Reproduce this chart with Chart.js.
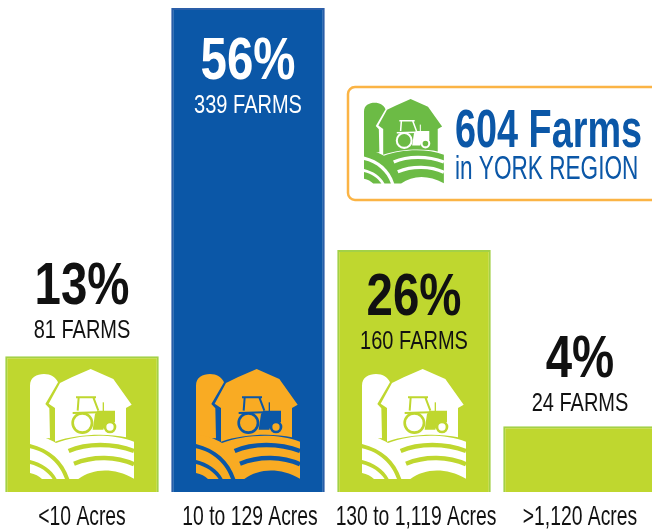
<!DOCTYPE html>
<html><head><meta charset="utf-8">
<style>
html,body{margin:0;padding:0;background:#fff;overflow:hidden;width:652px;height:531px}
#wrap{position:absolute;left:-1px;top:0;width:664px;height:531px}
</style>
<script src="https://cdn.jsdelivr.net/npm/chart.js@4"></script>
</head><body><div id="wrap"><canvas id="c" width="664" height="531"></canvas></div>
<script>
const categories = ['<10 Acres','10 to 129 Acres','130 to 1,119 Acres','>1,120 Acres'];
const percentLabels = ['13%','56%','26%','4%'];
const farmLabels = ['81 FARMS','339 FARMS','160 FARMS','24 FARMS'];
const drawnBarHeights = [15.7,56,28,7.6];
const barFill = ['#bfd72f','#0b57a7','#bfd72f','#bfd72f'];
const barEdge = ['#a3d147','#2a5ea8','#a3d147','#a3d147'];
const iconColor = ['#ffffff','#f9ab23','#ffffff',null];
const logoTitle = '604 Farms';
const logoSubtitle = 'in YORK REGION';

const FACE = '"Liberation Sans"';
// Condensed look: real text squeezed horizontally by the given factor.
function text(ctx,s,x,y,font,color,align,squeeze){
  ctx.save();ctx.font=font;ctx.fillStyle=color;ctx.textBaseline='alphabetic';ctx.textAlign=align||'center';
  ctx.fillText(s,x,y,ctx.measureText(s).width*(squeeze||1));ctx.restore();
}
// icon drawn in its own 313x330 design space (origin top-left)
function barn(ctx,x,y,k,fg,bg){
  ctx.save();ctx.translate(x,y);ctx.scale(k,k);ctx.lineCap='butt';ctx.lineJoin='round';
  ctx.fillStyle=fg;
  // silo
  ctx.beginPath();ctx.moveTo(0,205);ctx.lineTo(0,50);ctx.bezierCurveTo(0,25,20,15,42,15);
  ctx.bezierCurveTo(62,15,78,25,84,40);ctx.lineTo(46,105);ctx.lineTo(58,118);ctx.lineTo(60,208);ctx.closePath();ctx.fill();
  // barn
  ctx.beginPath();ctx.moveTo(56,104);ctx.lineTo(90,42);ctx.lineTo(125,25);ctx.lineTo(182,0);ctx.lineTo(250,30);
  ctx.lineTo(305,107);ctx.lineTo(288,117);ctx.lineTo(288,205);ctx.bezierCurveTo(230,192,140,195,75,218);
  ctx.lineTo(75,117);ctx.closePath();ctx.fill();
  // tractor
  ctx.strokeStyle=bg;ctx.fillStyle=bg;
  ctx.lineWidth=8;
  ctx.beginPath();ctx.arc(157,162,29,0,Math.PI*2);ctx.stroke();
  ctx.beginPath();ctx.arc(240,174,15,0,Math.PI*2);ctx.stroke();
  ctx.lineWidth=6;
  ctx.beginPath();ctx.moveTo(138,85);ctx.lineTo(198,85);ctx.moveTo(146,85);ctx.lineTo(143,125);ctx.moveTo(190,85);ctx.lineTo(205,125);
  ctx.moveTo(128,132);ctx.lineTo(205,130);ctx.stroke();
  ctx.beginPath();ctx.moveTo(195,135);ctx.lineTo(203,125);ctx.lineTo(255,125);ctx.lineTo(255,160);ctx.lineTo(226,162);ctx.lineTo(220,182);ctx.lineTo(188,182);ctx.closePath();ctx.fill();
  ctx.fillRect(218,100,4,28);
  // field
  ctx.fillStyle=fg;
  ctx.beginPath();ctx.moveTo(0,197);ctx.bezierCurveTo(30,198,60,210,78,222);ctx.bezierCurveTo(140,198,240,190,312,218);
  ctx.lineTo(312,329);ctx.bezierCurveTo(250,295,190,298,145,330);ctx.lineTo(118,330);ctx.bezierCurveTo(100,275,60,240,0,225);
  ctx.closePath();ctx.fill();
  // lower left bands
  ctx.beginPath();ctx.moveTo(0,238);ctx.bezierCurveTo(50,248,90,285,105,330);ctx.lineTo(80,330);ctx.bezierCurveTo(65,300,35,282,0,273);ctx.closePath();ctx.fill();
  ctx.beginPath();ctx.moveTo(0,285);ctx.bezierCurveTo(30,292,55,310,68,330);ctx.lineTo(36,330);ctx.bezierCurveTo(27,322,15,315,0,312);ctx.closePath();ctx.fill();
  // stripes cut from the field
  ctx.strokeStyle=bg;ctx.lineWidth=13;
  ctx.beginPath();ctx.moveTo(116,246);ctx.bezierCurveTo(170,222,250,222,312,246);ctx.stroke();
  ctx.beginPath();ctx.moveTo(132,284);ctx.bezierCurveTo(190,260,260,262,312,286);ctx.stroke();
  ctx.restore();
}
const overlay = {
  id:'overlay',
  afterDatasetsDraw(chart){
    const ctx=chart.ctx, bars=chart.getDatasetMeta(0).data;
    bars.forEach((b,i)=>{
      const inside=b.base-b.y>200;
      const pctY=inside?b.y+(i===1?71:65):b.y-(i===0?52:49);
      const subY=pctY+34;
      const col=i===1?'#ffffff':'#111111';
      text(ctx,percentLabels[i],b.x,pctY,'bold 60px '+FACE,col,'center',0.79);
      text(ctx,farmLabels[i],b.x,subY,'25px '+FACE,col,'center',0.80);
      if(iconColor[i]) barn(ctx,b.x-52,b.base-123,1/3,iconColor[i],barFill[i]);
      const s=chart.scales.x;
      text(ctx,s.getLabelForValue(i),s.getPixelForTick(i)+[0,2,2,0][i],525,'28px '+FACE,'#111111','center',0.69);
    });
    // logo box
    ctx.save();ctx.strokeStyle='#fbb445';ctx.lineWidth=2.5;ctx.beginPath();ctx.roundRect(349,87,330,113,7);ctx.stroke();ctx.restore();
    barn(ctx,365,99,0.256,'#6cbb45','#ffffff');
    text(ctx,logoTitle,456,147,'bold 54px '+FACE,'#0b57a7','left',0.70);
    text(ctx,logoSubtitle,456,179,'33px '+FACE,'#0b57a7','left',0.685);
  }
};
new Chart(document.getElementById('c'),{
  type:'bar',
  data:{labels:categories,datasets:[{data:drawnBarHeights,backgroundColor:barFill,borderColor:barEdge,borderWidth:2,barPercentage:0.925,categoryPercentage:1}]},
  plugins:[overlay],
  options:{
    responsive:false,animation:false,
    layout:{padding:{top:8,left:0,right:0,bottom:0}},
    plugins:{legend:{display:false},tooltip:{enabled:false}},
    scales:{
      y:{display:false,min:0,max:56},
      x:{grid:{display:false},border:{display:false},afterFit(s){s.height=39;},ticks:{display:false}}
    }
  }
});
</script></body></html>
